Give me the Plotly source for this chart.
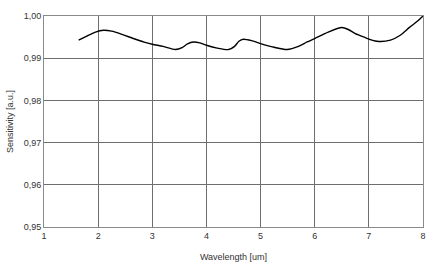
import plotly.graph_objects as go

wavelength = [1.64, 1.80, 1.95, 2.10, 2.25, 2.45, 2.65, 2.85, 3.00, 3.20, 3.43, 3.55, 3.65, 3.76, 3.88, 4.00, 4.20, 4.41, 4.52, 4.60, 4.68, 4.85, 5.00, 5.25, 5.49, 5.70, 5.86, 6.00, 6.25, 6.50, 6.62, 6.75, 6.90, 7.15, 7.40, 7.58, 7.75, 7.90, 8.00]
sensitivity = [0.9943, 0.9953, 0.9962, 0.99662, 0.9964, 0.9956, 0.99466, 0.9938, 0.99331, 0.9928, 0.99206, 0.9925, 0.9934, 0.99385, 0.99362, 0.99307, 0.9924, 0.99206, 0.9928, 0.9940, 0.9945, 0.9941, 0.99347, 0.9926, 0.99206, 0.9928, 0.99385, 0.99466, 0.9962, 0.99726, 0.9968, 0.9958, 0.99504, 0.99402, 0.9943, 0.99544, 0.9973, 0.9988, 1.0000]

x_ticks = [1, 2, 3, 4, 5, 6, 7, 8]
y_ticks = [0.95, 0.96, 0.97, 0.98, 0.99, 1.00]
y_tick_labels = ["0,95", "0,96", "0,97", "0,98", "0,99", "1,00"]

font = dict(family="Liberation Sans, Arial", size=9, color="#333333")

fig = go.Figure()
fig.add_trace(go.Scatter(x=wavelength, y=sensitivity, mode="lines",
                         line=dict(color="black", width=1.4, shape="spline", smoothing=0.8),
                         showlegend=False, hoverinfo="skip"))

axis_common = dict(showgrid=True, gridcolor="#6e6e6e", gridwidth=1,
                   showline=True, linecolor="#8a8a8a", linewidth=1, mirror=True,
                   zeroline=False, ticks="", tickfont=font, automargin=False)

fig.update_layout(
    width=437, height=267,
    margin=dict(l=44, r=14, t=16, b=40),
    paper_bgcolor="white", plot_bgcolor="white",
    xaxis=dict(range=[1, 8], tickvals=x_ticks, ticktext=[str(v) for v in x_ticks],
               title=dict(text="Wavelength [um]", font=font, standoff=13),
               **axis_common),
    yaxis=dict(range=[0.95, 1.00], tickvals=y_ticks, ticktext=y_tick_labels,
               title=dict(text="Sensitivity [a.u.]", font=font, standoff=8),
               **axis_common),
)

fig.write_html("out.html")
